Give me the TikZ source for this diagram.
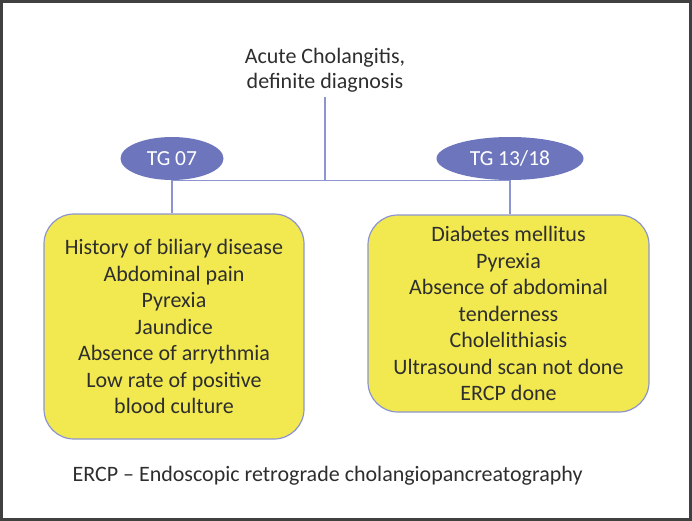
\documentclass[tikz,border=0pt]{standalone}
\usepackage{fontspec}
\setmainfont{Carlito}
\usetikzlibrary{shapes.geometric}

\definecolor{framegray}{HTML}{404040}
\definecolor{txtgray}{HTML}{2E2E2E}
\definecolor{tgblue}{HTML}{6D76BC}
\definecolor{linkblue}{HTML}{8C95D0}
\definecolor{boxyellow}{HTML}{F1E94F}

\tikzset{
  tglabel/.style={ellipse, fill=tgblue, text=white, inner sep=0pt,
    minimum height=43pt, font=\fontsize{21.5}{25}\selectfont},
  critbox/.style={draw=linkblue, line width=1.2pt, fill=boxyellow, rounded corners=30pt,
    align=center, text=txtgray, font=\fontsize{22}{26.5}\selectfont},
  link/.style={linkblue, line width=1.2pt}
}

\begin{document}
\begin{tikzpicture}[x=1pt, y=-1pt]
      \useasboundingbox (0,0) rectangle (692,521);
      % Rahmen
      \draw[framegray, line width=3pt] (1.5,1.5) rectangle (690.5,519.5);

      % Titel
      \node[align=center, text=txtgray, font=\fontsize{22}{25}\selectfont] (title) at (325,70)
        {Acute Cholangitis,\\definite diagnosis};

      % Leitlinien
      \node[tglabel, minimum width=103pt] (tg07) at (172,158.5) {TG 07};
      \node[tglabel, minimum width=147pt] (tg13) at (510,158.5) {TG 13/18};

      % Kästen
      \node[critbox, minimum width=260pt, minimum height=225pt] (left) at (174,326.5)
        {History of biliary disease\\Abdominal pain\\Pyrexia\\Jaundice\\Absence of arrythmia\\Low rate of positive\\blood culture};
      \node[critbox, minimum width=281pt, minimum height=197pt] (right) at (508.5,313.5)
        {Diabetes mellitus\\Pyrexia\\Absence of abdominal\\tenderness\\Cholelithiasis\\Ultrasound scan not done\\ERCP done};

      % Verbindungen
      \draw[link] (tg07.south) -- (tg13.south);
      \draw[link] (325,97) -- (325,180);
      \draw[link] (tg07.south) -- (tg07.south |- left.north);
      \draw[link] (tg13.south) -- (tg13.south |- right.north);

      % Fußnote
      \node[anchor=west, text=txtgray, font=\fontsize{22}{25}\selectfont] (note) at (69,476)
        {ERCP – Endoscopic retrograde cholangiopancreatography};
    \end{tikzpicture}
\end{document}
